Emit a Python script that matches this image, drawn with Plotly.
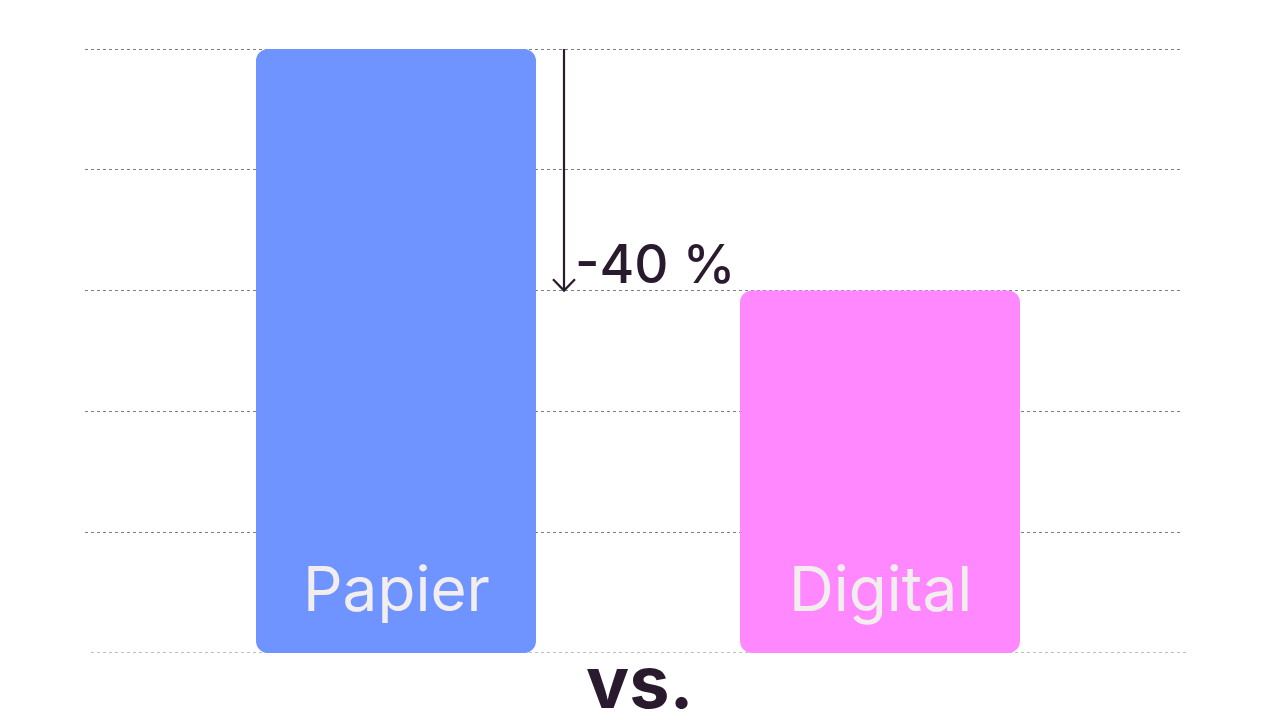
import plotly.graph_objects as go

# data
categories = ["Papier", "Digital"]
values = [100, 60]
bar_colors = ["#6f93ff", "#ff88ff"]
grid_ticks = [20, 40, 60, 80, 100]

change_pct = round((values[1] - values[0]) / values[0] * 100)
change_label = f"{change_pct} %"

DARK = "#2a1a2e"
LABEL = "#f2eeee"
GRID = "#7f7f7f"
PX = 484  # pixels between the two bar centres
BAR_WIDTH = 280 / PX

fig = go.Figure()

xs = list(range(len(categories)))

# each bar is drawn in two overlapping halves so both ends get rounded corners
fig.add_trace(go.Bar(
    x=xs, y=[v * 0.6 for v in values], base=[v * 0.4 for v in values],
    width=BAR_WIDTH, marker=dict(color=bar_colors, line=dict(width=0)),
    hoverinfo="skip", showlegend=False,
))
fig.add_trace(go.Bar(
    x=xs, y=[-v * 0.6 for v in values], base=[v * 0.6 for v in values],
    width=BAR_WIDTH, marker=dict(color=bar_colors, line=dict(width=0)),
    hoverinfo="skip", showlegend=False,
))

# arrow showing the drop between the two bars
arrow_x = xs[0] + BAR_WIDTH / 2 + 28 / PX
dx, dy = 11 / PX, 1.9
fig.add_trace(go.Scatter(
    x=[arrow_x, arrow_x, None, arrow_x - dx, arrow_x, arrow_x + dx],
    y=[values[0], values[1], None, values[1] + dy, values[1], values[1] + dy],
    mode="lines", line=dict(color=DARK, width=2.2),
    hoverinfo="skip", showlegend=False,
))
fig.add_annotation(
    x=arrow_x + 9 / PX, y=values[1] + 4.4, text=change_label,
    showarrow=False, xanchor="left", yanchor="middle",
    font=dict(size=53, color=DARK, weight=500),
)

# labels inside the bars
for i, cat in enumerate(categories):
    fig.add_annotation(
        x=i, y=10.6, text=cat, showarrow=False,
        xanchor="center", yanchor="middle",
        font=dict(size=62, color=LABEL),
    )

fig.add_annotation(
    xref="paper", yref="paper", x=0.506, y=-0.047, text="vs.",
    showarrow=False, xanchor="center", yanchor="middle",
    font=dict(size=72, color=DARK, weight=700),
)

# baseline
fig.add_shape(
    type="line", xref="paper", yref="y", x0=0.0055, x1=1.0055, y0=0, y1=0,
    line=dict(color=GRID, width=1, dash="dot"), layer="below",
)

# the page adds an 8px body margin, so the figure is 16px smaller than the window
fig.update_layout(
    width=1264, height=704,
    margin=dict(l=77, r=90, t=38, b=59),
    paper_bgcolor="white", plot_bgcolor="white",
    font=dict(family="Inter"),
    barmode="overlay", barcornerradius=12,
    xaxis=dict(range=[-311 / PX, 1 + 302 / PX], showticklabels=False, showgrid=False,
               zeroline=False, fixedrange=True),
    yaxis=dict(range=[0, 100.5], tickvals=grid_ticks, showticklabels=False,
               showgrid=True, gridcolor=GRID, gridwidth=1, griddash="dot",
               zeroline=False, fixedrange=True),
)

fig.write_html("out.html")
